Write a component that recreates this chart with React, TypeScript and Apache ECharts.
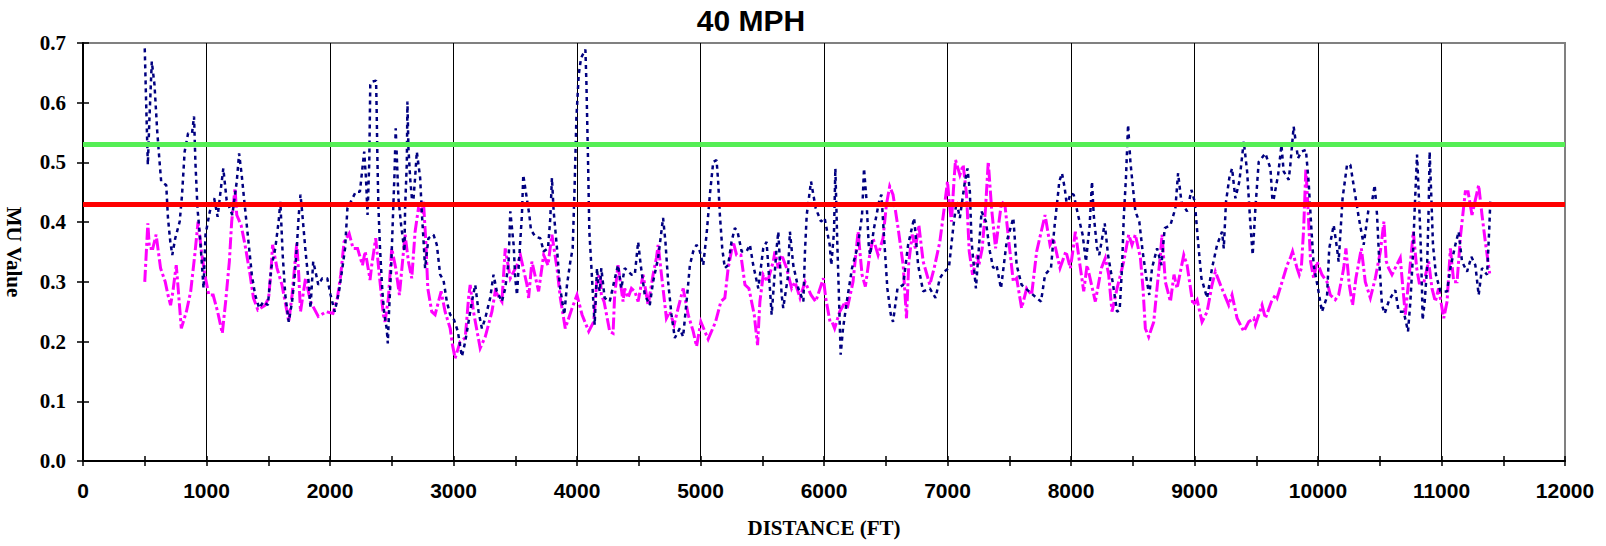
import React, { useEffect, useRef } from "react";
import * as echarts from "echarts";

const chartTitle = "40 MPH";
const xAxisName = "DISTANCE (FT)";
const yAxisName = "MU Value";
const xMin = 0;
const xMax = 12000;
const xStep = 1000;
const yMin = 0;
const yMax = 0.7;
const yStep = 0.1;
const greenLimit = 0.53;
const redLimit = 0.43;

// navy dotted series: [distance ft, MU]
const navyPoints: [number, number][] = [
  [500, 0.691], [511, 0.602], [525, 0.496], [538, 0.574], [557, 0.669], [579, 0.63], [601, 0.552], [620, 0.501], [633, 0.468], [674, 0.462],
  [688, 0.407], [707, 0.367], [723, 0.345], [747, 0.373], [783, 0.401], [802, 0.446], [823, 0.518], [851, 0.549], [883, 0.549], [899, 0.577],
  [910, 0.501], [927, 0.423], [946, 0.379], [967, 0.317], [976, 0.289], [992, 0.379], [1027, 0.418], [1062, 0.44], [1090, 0.409], [1117, 0.457],
  [1136, 0.49], [1163, 0.437], [1209, 0.412], [1245, 0.468], [1264, 0.515], [1285, 0.479], [1312, 0.423], [1340, 0.367], [1367, 0.312], [1394, 0.278],
  [1427, 0.256], [1462, 0.267], [1497, 0.261], [1524, 0.323], [1557, 0.356], [1584, 0.401], [1598, 0.434], [1617, 0.345], [1638, 0.278], [1666, 0.233],
  [1693, 0.267], [1715, 0.312], [1734, 0.367], [1747, 0.412], [1761, 0.446], [1774, 0.418], [1802, 0.351], [1829, 0.295], [1842, 0.256], [1864, 0.334],
  [1883, 0.317], [1905, 0.295], [1937, 0.306], [1978, 0.306], [2005, 0.278], [2038, 0.25], [2073, 0.284], [2100, 0.323], [2122, 0.356], [2141, 0.423],
  [2168, 0.434], [2209, 0.451], [2242, 0.451], [2277, 0.518], [2291, 0.474], [2304, 0.412], [2318, 0.501], [2326, 0.63],
  [2338, 0.635], [2373, 0.637], [2378, 0.585], [2384, 0.504], [2392, 0.426], [2405, 0.356], [2424, 0.284], [2440, 0.245], [2459, 0.222], [2468, 0.197],
  [2478, 0.25], [2495, 0.323], [2513, 0.429], [2522, 0.479], [2532, 0.557], [2554, 0.44], [2576, 0.395], [2603, 0.351], [2608, 0.423], [2622, 0.499],
  [2627, 0.602], [2635, 0.524], [2649, 0.474], [2670, 0.423], [2689, 0.474], [2703, 0.518], [2730, 0.474], [2743, 0.418], [2757, 0.37], [2770, 0.323],
  [2797, 0.373], [2838, 0.379], [2865, 0.362], [2892, 0.312], [2919, 0.303], [2946, 0.267], [2973, 0.245], [3000, 0.239], [3035, 0.217], [3068, 0.175],
  [3095, 0.2], [3122, 0.233], [3149, 0.267], [3176, 0.295], [3203, 0.25], [3230, 0.222], [3257, 0.239], [3297, 0.273], [3324, 0.312], [3351, 0.284],
  [3392, 0.267], [3419, 0.289], [3446, 0.334], [3460, 0.418], [3487, 0.362], [3500, 0.306], [3514, 0.278], [3532, 0.34], [3554, 0.412], [3565, 0.479],
  [3581, 0.457], [3614, 0.412], [3627, 0.387], [3662, 0.376], [3703, 0.373], [3730, 0.351], [3765, 0.356], [3784, 0.407], [3797, 0.474], [3811, 0.418],
  [3838, 0.356], [3860, 0.295], [3897, 0.245], [3919, 0.295], [3946, 0.334], [3965, 0.356], [3981, 0.462], [3995, 0.574], [4014, 0.647], [4033, 0.675],
  [4068, 0.689], [4076, 0.635], [4089, 0.507], [4100, 0.384], [4114, 0.334], [4135, 0.256], [4143, 0.228], [4162, 0.323],
  [4170, 0.3], [4184, 0.284], [4197, 0.323], [4224, 0.273], [4265, 0.267], [4300, 0.3], [4332, 0.328], [4359, 0.289], [4386, 0.323], [4441, 0.312],
  [4468, 0.312], [4495, 0.367], [4516, 0.328], [4549, 0.278], [4589, 0.261], [4616, 0.3], [4657, 0.34], [4697, 0.407], [4716, 0.367], [4738, 0.3],
  [4765, 0.245], [4792, 0.206], [4832, 0.222], [4859, 0.208], [4895, 0.284], [4914, 0.328], [4941, 0.351], [4968, 0.362], [4995, 0.351], [5022, 0.328],
  [5049, 0.379], [5076, 0.446], [5103, 0.501], [5130, 0.504], [5143, 0.468], [5157, 0.412], [5176, 0.356], [5197, 0.323], [5224, 0.328], [5251, 0.367],
  [5278, 0.39], [5300, 0.384], [5333, 0.351], [5373, 0.351], [5400, 0.362], [5427, 0.328], [5468, 0.289], [5508, 0.356], [5535, 0.367], [5562, 0.289],
  [5576, 0.245], [5616, 0.356], [5630, 0.384], [5657, 0.278], [5670, 0.256], [5706, 0.306], [5724, 0.384], [5751, 0.328], [5792, 0.289], [5833, 0.267],
  [5846, 0.351], [5860, 0.412], [5895, 0.468], [5933, 0.423], [5976, 0.401],
  [6005, 0.407], [6046, 0.362], [6059, 0.328], [6081, 0.384], [6092, 0.49], [6108, 0.362], [6119, 0.289], [6135, 0.178], [6154, 0.222], [6189, 0.273],
  [6227, 0.323], [6276, 0.362], [6308, 0.412], [6324, 0.49], [6343, 0.44], [6362, 0.362], [6373, 0.345], [6405, 0.39], [6451, 0.44], [6465, 0.446],
  [6492, 0.356], [6513, 0.289], [6541, 0.245], [6559, 0.233], [6595, 0.289], [6641, 0.295], [6681, 0.362], [6730, 0.407], [6762, 0.328], [6803, 0.284],
  [6857, 0.289], [6903, 0.273], [6938, 0.306], [6973, 0.317], [7011, 0.323], [7046, 0.39], [7073, 0.434], [7100, 0.407], [7141, 0.468], [7162, 0.49],
  [7181, 0.451], [7195, 0.367], [7230, 0.289], [7262, 0.379], [7276, 0.418], [7311, 0.401], [7343, 0.351], [7370, 0.323], [7397, 0.328], [7433, 0.289],
  [7479, 0.367], [7533, 0.407], [7560, 0.328], [7600, 0.295], [7660, 0.284], [7722, 0.273], [7757, 0.267], [7790, 0.312], [7838, 0.323], [7865, 0.39],
  [7897, 0.451],
  [7905, 0.468], [7927, 0.482], [7949, 0.457], [7968, 0.426], [7995, 0.448], [8022, 0.446], [8057, 0.412], [8094, 0.379], [8121, 0.334], [8151, 0.395],
  [8170, 0.468], [8184, 0.412], [8211, 0.356], [8229, 0.345], [8273, 0.398], [8300, 0.345], [8337, 0.3], [8373, 0.25], [8394, 0.253], [8413, 0.323],
  [8427, 0.407], [8445, 0.474], [8462, 0.563], [8481, 0.501], [8502, 0.457], [8521, 0.418], [8553, 0.401], [8580, 0.351], [8615, 0.3], [8634, 0.278],
  [8656, 0.323], [8697, 0.356], [8732, 0.328], [8759, 0.39], [8805, 0.395], [8845, 0.423], [8867, 0.482], [8894, 0.434], [8940, 0.418], [8975, 0.454],
  [9002, 0.434], [9029, 0.367], [9056, 0.306], [9102, 0.273], [9142, 0.323], [9183, 0.362], [9223, 0.384], [9237, 0.356], [9255, 0.434], [9282, 0.474],
  [9304, 0.49], [9331, 0.44], [9363, 0.468], [9399, 0.535], [9426, 0.485], [9453, 0.395], [9471, 0.345], [9493, 0.423], [9520, 0.501], [9574, 0.515],
  [9615, 0.49], [9633, 0.429], [9677, 0.479], [9704, 0.529], [9722, 0.485], [9763, 0.471],
  [9776, 0.496], [9803, 0.56], [9838, 0.507], [9865, 0.518], [9902, 0.521], [9924, 0.468], [9946, 0.39], [9965, 0.328], [10000, 0.289], [10032, 0.25],
  [10073, 0.275], [10091, 0.356], [10127, 0.395], [10154, 0.356], [10167, 0.334], [10199, 0.44], [10235, 0.496], [10262, 0.496], [10297, 0.451], [10329, 0.409],
  [10370, 0.362], [10410, 0.423], [10442, 0.44], [10459, 0.462], [10478, 0.412], [10496, 0.334], [10518, 0.261], [10540, 0.247], [10577, 0.27], [10626, 0.286],
  [10653, 0.25], [10694, 0.25], [10729, 0.217], [10748, 0.267], [10769, 0.345], [10783, 0.423], [10802, 0.513], [10815, 0.451], [10829, 0.379], [10842, 0.289],
  [10847, 0.236], [10864, 0.267], [10883, 0.323], [10896, 0.423], [10904, 0.518], [10918, 0.44], [10931, 0.362], [10955, 0.312], [10991, 0.284], [11045, 0.284],
  [11072, 0.323], [11112, 0.362], [11139, 0.384], [11166, 0.334], [11207, 0.317], [11242, 0.342], [11274, 0.328], [11301, 0.278], [11328, 0.323], [11369, 0.312],
  [11387, 0.39], [11396, 0.44],
];

// magenta dash-dot series: [distance ft, MU]
const magentaPoints: [number, number][] = [
  [500, 0.3], [525, 0.398], [538, 0.356], [565, 0.356], [592, 0.379], [628, 0.323], [666, 0.3], [688, 0.278], [709, 0.261], [728, 0.284],
  [755, 0.328], [764, 0.306], [796, 0.222], [837, 0.25], [872, 0.284], [905, 0.345], [932, 0.401], [959, 0.351], [986, 0.312], [1019, 0.278],
  [1054, 0.278], [1090, 0.25], [1128, 0.214], [1155, 0.267], [1185, 0.334], [1204, 0.401], [1231, 0.457], [1245, 0.412], [1280, 0.395], [1312, 0.362],
  [1353, 0.312], [1380, 0.273], [1416, 0.253], [1475, 0.261], [1503, 0.273], [1524, 0.323], [1535, 0.362], [1571, 0.323], [1611, 0.295], [1652, 0.25],
  [1666, 0.233], [1693, 0.278], [1731, 0.365], [1747, 0.312], [1761, 0.25], [1802, 0.306], [1842, 0.267], [1905, 0.242], [1970, 0.25], [2024, 0.247],
  [2060, 0.273], [2087, 0.312], [2114, 0.367], [2155, 0.381], [2187, 0.356], [2223, 0.356], [2263, 0.328], [2285, 0.351], [2318, 0.312],
  [2324, 0.303], [2338, 0.328], [2370, 0.373], [2405, 0.3], [2432, 0.245], [2446, 0.233], [2473, 0.273], [2500, 0.356], [2532, 0.323], [2562, 0.278],
  [2595, 0.351], [2608, 0.379], [2635, 0.334], [2662, 0.306], [2689, 0.384], [2716, 0.423], [2743, 0.418], [2757, 0.434], [2776, 0.367], [2792, 0.289],
  [2824, 0.25], [2851, 0.245], [2900, 0.284], [2932, 0.25], [2973, 0.222], [2992, 0.194], [3013, 0.172], [3054, 0.2], [3095, 0.206], [3122, 0.273],
  [3135, 0.295], [3162, 0.25], [3216, 0.189], [3257, 0.208], [3311, 0.25], [3338, 0.284], [3392, 0.267], [3419, 0.356], [3460, 0.306], [3514, 0.328],
  [3541, 0.345], [3595, 0.295], [3608, 0.273], [3635, 0.334], [3689, 0.284], [3730, 0.345], [3765, 0.328], [3797, 0.379], [3838, 0.323], [3865, 0.273],
  [3905, 0.222], [3960, 0.256], [4000, 0.278], [4041, 0.245], [4095, 0.217], [4135, 0.233], [4162, 0.306], [4189, 0.312],
  [4197, 0.278], [4219, 0.267], [4265, 0.217], [4292, 0.214], [4305, 0.278], [4332, 0.328], [4373, 0.267], [4386, 0.289], [4413, 0.273], [4441, 0.289],
  [4468, 0.284], [4495, 0.267], [4535, 0.312], [4576, 0.261], [4616, 0.312], [4643, 0.34], [4657, 0.362], [4684, 0.312], [4724, 0.239], [4751, 0.25],
  [4786, 0.228], [4819, 0.256], [4860, 0.289], [4900, 0.245], [4941, 0.217], [4968, 0.192], [5003, 0.233], [5062, 0.204], [5122, 0.233], [5165, 0.267],
  [5197, 0.273], [5224, 0.323], [5265, 0.367], [5292, 0.345], [5327, 0.345], [5360, 0.295], [5392, 0.289], [5435, 0.245], [5462, 0.194], [5481, 0.267],
  [5508, 0.312], [5543, 0.3], [5589, 0.334], [5603, 0.351], [5630, 0.323], [5657, 0.345], [5697, 0.323], [5738, 0.289], [5765, 0.3], [5806, 0.273],
  [5846, 0.3], [5895, 0.278], [5933, 0.267], [5995, 0.306], [6014, 0.273], [6049, 0.233],
  [6065, 0.233], [6086, 0.222], [6127, 0.25], [6173, 0.267], [6189, 0.256], [6235, 0.3], [6276, 0.384], [6308, 0.312], [6335, 0.292], [6370, 0.345],
  [6397, 0.373], [6438, 0.345], [6478, 0.373], [6505, 0.429], [6532, 0.46], [6559, 0.446], [6600, 0.39], [6641, 0.328], [6668, 0.239], [6687, 0.334],
  [6714, 0.379], [6740, 0.356], [6768, 0.395], [6803, 0.334], [6857, 0.295], [6892, 0.323], [6938, 0.367], [6973, 0.423], [7000, 0.468], [7019, 0.423],
  [7032, 0.401], [7054, 0.474], [7065, 0.504], [7100, 0.479], [7127, 0.496], [7154, 0.446], [7176, 0.351], [7203, 0.312], [7243, 0.345], [7254, 0.328],
  [7281, 0.356], [7308, 0.423], [7330, 0.501], [7357, 0.423], [7389, 0.356], [7438, 0.434], [7465, 0.429], [7497, 0.367], [7533, 0.3], [7560, 0.306],
  [7600, 0.256], [7641, 0.289], [7681, 0.278], [7722, 0.351], [7790, 0.412], [7830, 0.362], [7857, 0.373], [7911, 0.323],
  [7940, 0.34], [7959, 0.351], [7995, 0.323], [8022, 0.362], [8035, 0.384], [8076, 0.323], [8103, 0.284], [8130, 0.328], [8197, 0.267], [8246, 0.323],
  [8278, 0.34], [8305, 0.312], [8332, 0.25], [8373, 0.289], [8427, 0.334], [8467, 0.379], [8494, 0.362], [8521, 0.379], [8562, 0.34], [8583, 0.289],
  [8602, 0.222], [8629, 0.208], [8670, 0.233], [8691, 0.278], [8724, 0.345], [8737, 0.379], [8764, 0.3], [8805, 0.267], [8834, 0.312], [8859, 0.289],
  [8913, 0.345], [8940, 0.328], [8988, 0.261], [9021, 0.27], [9061, 0.233], [9102, 0.25], [9142, 0.295], [9169, 0.317], [9210, 0.295], [9277, 0.261],
  [9304, 0.278], [9345, 0.239], [9399, 0.217], [9439, 0.233], [9480, 0.239], [9493, 0.228], [9547, 0.261], [9574, 0.239], [9623, 0.267], [9655, 0.278],
  [9669, 0.273], [9709, 0.3], [9750, 0.328],
  [9776, 0.34], [9794, 0.351], [9830, 0.323], [9848, 0.312], [9865, 0.323], [9884, 0.39], [9902, 0.49], [9919, 0.423], [9940, 0.334], [9965, 0.306],
  [9992, 0.334], [10032, 0.312], [10073, 0.3], [10100, 0.278], [10140, 0.27], [10167, 0.278], [10208, 0.323], [10226, 0.356], [10253, 0.295], [10280, 0.261],
  [10307, 0.306], [10351, 0.356], [10383, 0.3], [10424, 0.273], [10464, 0.306], [10505, 0.351], [10534, 0.401], [10553, 0.334], [10572, 0.323], [10599, 0.312],
  [10666, 0.34], [10685, 0.295], [10707, 0.245], [10739, 0.312], [10772, 0.384], [10799, 0.323], [10820, 0.298], [10856, 0.298], [10896, 0.334], [10923, 0.289],
  [10950, 0.267], [10977, 0.289], [11018, 0.239], [11045, 0.267], [11072, 0.356], [11099, 0.3], [11126, 0.3], [11155, 0.379], [11193, 0.451], [11215, 0.451],
  [11247, 0.412], [11301, 0.462], [11328, 0.412], [11355, 0.367], [11390, 0.314],
];

const serif = '"Liberation Serif", "Times New Roman", serif';
const sans = '"Liberation Sans", Arial, sans-serif';

export default function App() {
  const ref = useRef<HTMLDivElement>(null);

  useEffect(() => {
    if (!ref.current) return;
    const chart = echarts.init(ref.current, undefined, { renderer: "svg" });
    const tickStyle = { color: "#000", width: 1.5 };
    const xBase = { type: "value", min: xMin, max: xMax, interval: xStep, position: "bottom" };
    const yBase = { type: "value", min: yMin, max: yMax, interval: yStep, position: "left" };
    const option: any = {
      animation: false,
      backgroundColor: "#ffffff",
      grid: {
        left: 83, right: 41, top: 43, bottom: 85,
        show: true, borderColor: "#808080", borderWidth: 2,
        containLabel: false, outerBoundsMode: "none",
      },
      xAxis: [
        {
          ...xBase,
          axisLine: { show: true, onZero: false, lineStyle: { color: "#000", width: 2 } },
          axisTick: { show: true, length: 5, lineStyle: tickStyle },
          minorTick: { show: true, splitNumber: 2, length: 5, lineStyle: tickStyle },
          axisLabel: {
            margin: 19, color: "#000", fontFamily: sans, fontWeight: "bold", fontSize: 21,
            formatter: (v: number) => String(Math.round(v)),
          },
          splitLine: { show: true, showMinLine: false, showMaxLine: false, lineStyle: { color: "#000", width: 1 } },
        },
        {
          ...xBase,
          axisLine: { show: false },
          axisTick: { show: true, inside: true, length: 5, lineStyle: tickStyle },
          minorTick: { show: true, splitNumber: 2, length: 5, lineStyle: tickStyle },
          axisLabel: { show: false },
          splitLine: { show: false },
        },
      ],
      yAxis: [
        {
          ...yBase,
          axisLine: { show: true, onZero: false, lineStyle: { color: "#000", width: 2 } },
          axisTick: { show: true, length: 6, lineStyle: tickStyle },
          axisLabel: {
            margin: 17, color: "#000", fontFamily: serif, fontWeight: "bold", fontSize: 21,
            formatter: (v: number) => v.toFixed(1),
          },
          splitLine: { show: false },
        },
        {
          ...yBase,
          axisLine: { show: false },
          axisTick: { show: true, inside: true, length: 6, lineStyle: tickStyle },
          axisLabel: { show: false },
          splitLine: { show: false },
        },
      ],
      series: [
        {
          name: "magenta",
          type: "line",
          xAxisIndex: 0, yAxisIndex: 0,
          data: magentaPoints,
          symbol: "none", showSymbol: false,
          lineStyle: { color: "#ff00ff", width: 3, type: [12, 3, 3, 3], cap: "butt", join: "miter" },
          z: 3,
        },
        {
          name: "navy",
          type: "line",
          xAxisIndex: 0, yAxisIndex: 0,
          data: navyPoints,
          symbol: "none", showSymbol: false,
          lineStyle: { color: "#000080", width: 2.5, type: [4, 4], cap: "butt" },
          z: 4,
        },
        {
          name: "limits",
          type: "line",
          xAxisIndex: 0, yAxisIndex: 0,
          data: [],
          z: 5,
          markLine: {
            silent: true, symbol: "none", animation: false,
            label: { show: false },
            data: [
              { yAxis: greenLimit, lineStyle: { color: "#55ee55", width: 5, type: "solid" } },
              { yAxis: redLimit, lineStyle: { color: "#ff0000", width: 5, type: "solid" } },
            ],
          },
        },
      ],
      graphic: [
        {
          type: "text", x: 751, y: 20, z: 10,
          style: { text: chartTitle, fill: "#000", font: `bold 30px ${sans}`, align: "center", verticalAlign: "middle" },
        },
        {
          type: "text", x: 824, y: 528, z: 10,
          style: { text: xAxisName, fill: "#000", font: `bold 21px ${serif}`, align: "center", verticalAlign: "middle" },
        },
        {
          type: "text", x: 14, y: 252, rotation: -Math.PI / 2, z: 10,
          style: { text: yAxisName, fill: "#000", font: `bold 21px ${serif}`, align: "center", verticalAlign: "middle" },
        },
      ],
    };
    chart.setOption(option);
    return () => chart.dispose();
  }, []);

  return <div ref={ref} style={{ position: "absolute", left: 0, top: 0, width: 1606, height: 546 }} />;
}
